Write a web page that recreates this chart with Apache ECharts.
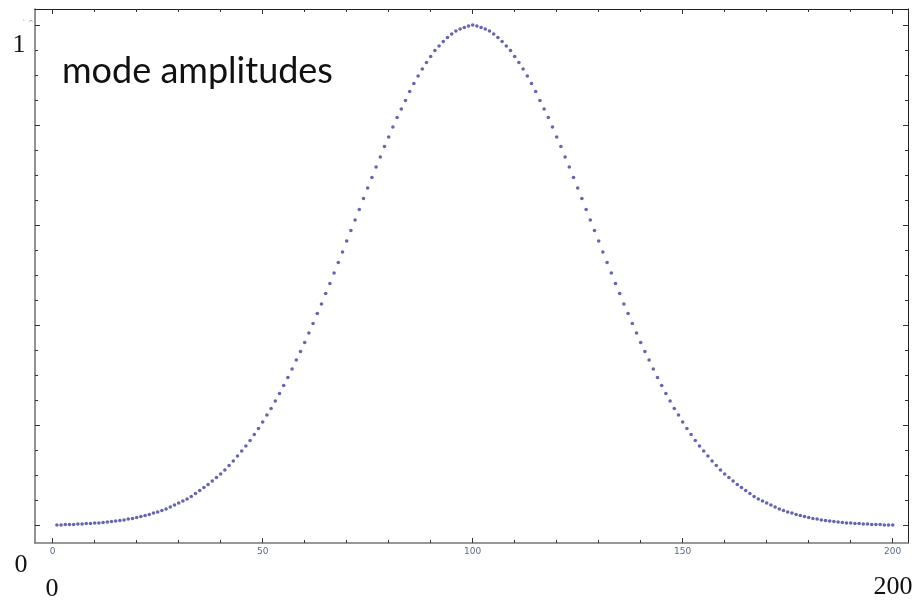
<!DOCTYPE html>
<html>
<head>
<meta charset="utf-8">
<script src="https://cdn.jsdelivr.net/npm/echarts@6/dist/echarts.min.js"></script>
<style>
html,body{margin:0;padding:0;background:#fff;}
#chart{width:916px;height:600px;}
</style>
</head>
<body>
<div id="chart"></div>
<script>
// mode index 1..200
var modeIndex = [];
for (var i = 1; i <= 200; i++) modeIndex.push(i);

// amplitudes
var amplitudes = [
 0.000,0.000,0.001,0.001,0.001,0.002,0.002,0.003,0.003,0.004,
 0.004,0.005,0.006,0.007,0.008,0.009,0.010,0.012,0.013,0.015,
 0.017,0.019,0.021,0.024,0.026,0.029,0.032,0.036,0.040,0.044,
 0.048,0.052,0.057,0.063,0.069,0.075,0.081,0.088,0.095,0.102,
 0.110,0.119,0.128,0.138,0.148,0.158,0.169,0.181,0.193,0.206,
 0.220,0.233,0.248,0.263,0.279,0.295,0.312,0.330,0.347,0.365,
 0.384,0.403,0.423,0.442,0.463,0.483,0.504,0.525,0.546,0.568,
 0.589,0.610,0.631,0.653,0.674,0.695,0.716,0.736,0.757,0.776,
 0.796,0.815,0.832,0.849,0.867,0.883,0.898,0.912,0.925,0.937,
 0.949,0.958,0.967,0.975,0.982,0.988,0.992,0.995,0.998,1.000,
 0.998,0.995,0.992,0.988,0.982,0.975,0.967,0.958,0.949,0.937,
 0.925,0.912,0.898,0.883,0.867,0.849,0.832,0.815,0.796,0.776,
 0.757,0.736,0.716,0.695,0.674,0.653,0.631,0.610,0.589,0.568,
 0.546,0.525,0.504,0.483,0.463,0.442,0.423,0.403,0.384,0.365,
 0.347,0.330,0.312,0.295,0.279,0.263,0.248,0.233,0.220,0.206,
 0.193,0.181,0.169,0.158,0.148,0.138,0.128,0.119,0.110,0.102,
 0.095,0.088,0.081,0.075,0.069,0.063,0.057,0.052,0.048,0.044,
 0.040,0.036,0.032,0.029,0.026,0.024,0.021,0.019,0.017,0.015,
 0.013,0.012,0.010,0.009,0.008,0.007,0.006,0.005,0.004,0.004,
 0.003,0.003,0.002,0.002,0.001,0.001,0.001,0.000,0.000,0.000
];

// tick positions
var xMajorTicks = [0, 50, 100, 150, 200];
var xMinorTicks = [0,10,20,30,40,50,60,70,80,90,100,110,120,130,140,150,160,170,180,190,200];
var yMajorTicks = [0, 0.2, 0.4, 0.6, 0.8, 1.0];
var yMinorTicks = [0,0.05,0.1,0.15,0.2,0.25,0.3,0.35,0.4,0.45,0.5,0.55,0.6,0.65,0.7,0.75,0.8,0.85,0.9,0.95,1.0];

// overlay texts
var titleText = 'mode amplitudes';
var yTopText = '1';
var yBottomText = '0';
var xLeftText = '0';
var xRightText = '200';

var X_MIN = -4.21, X_MAX = 203.64, Y_MIN = -0.036, Y_MAX = 1.032;

var points = modeIndex.map(function (x, k) { return [x, amplitudes[k]]; });

function xAx(pos, ticks, len, showLine, showLabel, lineColor, lineWidth) {
  return {
    type: 'value', position: pos, min: X_MIN, max: X_MAX,
    axisLine: { show: showLine, onZero: false, lineStyle: { color: lineColor, width: lineWidth } },
    axisTick: { show: true, inside: true, length: len, customValues: ticks, lineStyle: { color: '#333', width: 1 } },
    axisLabel: showLabel ? { show: true, customValues: xMajorTicks, fontSize: 9, color: '#5a6a8c', margin: 4, fontFamily: 'DejaVu Sans' } : { show: false },
    splitLine: { show: false }
  };
}
function yAx(pos, ticks, len, showLine, lineColor, lineWidth) {
  return {
    type: 'value', position: pos, min: Y_MIN, max: Y_MAX,
    axisLine: { show: showLine, onZero: false, lineStyle: { color: lineColor, width: lineWidth } },
    axisTick: { show: true, inside: true, length: len, customValues: ticks, lineStyle: { color: '#333', width: 1 } },
    axisLabel: { show: false },
    splitLine: { show: false }
  };
}

var chart = echarts.init(document.getElementById('chart'), null, { renderer: 'canvas' });
chart.setOption({
  backgroundColor: '#ffffff',
  animation: false,
  grid: { left: 35, right: 8, top: 9, bottom: 57, containLabel: false },
  xAxis: [
    xAx('bottom', xMajorTicks, 5, true, true, '#777', 1.6),
    xAx('bottom', xMinorTicks, 3, false, false, '#777', 1),
    xAx('top', xMajorTicks, 5, true, false, '#222', 1),
    xAx('top', xMinorTicks, 3, false, false, '#222', 1)
  ],
  yAxis: [
    yAx('left', yMajorTicks, 5, true, '#777', 1.6),
    yAx('left', yMinorTicks, 3, false, '#777', 1),
    yAx('right', yMajorTicks, 5, true, '#222', 1),
    yAx('right', yMinorTicks, 3, false, '#222', 1)
  ],
  series: [{
    type: 'scatter',
    xAxisIndex: 0, yAxisIndex: 0,
    data: points,
    symbol: 'circle',
    symbolSize: 3.6,
    itemStyle: { color: '#3f3f9e' },
    silent: true
  }],
  graphic: [
    { type: 'text', left: 62, top: 53, style: { text: titleText, font: '36px Lato', fill: '#111' } },
    { type: 'text', x: 19, y: 45, style: { text: yTopText, font: '26px "Liberation Serif"', fill: '#111', align: 'center', verticalAlign: 'middle' } },
    { type: 'text', x: 21, y: 565, style: { text: yBottomText, font: '26px "Liberation Serif"', fill: '#111', align: 'center', verticalAlign: 'middle' } },
    { type: 'text', x: 52, y: 589, style: { text: xLeftText, font: '26px "Liberation Serif"', fill: '#111', align: 'center', verticalAlign: 'middle' } },
    { type: 'text', x: 893, y: 587, style: { text: xRightText, font: '26px "Liberation Serif"', fill: '#111', align: 'center', verticalAlign: 'middle' } },
    { type: 'text', x: 28, y: 23, style: { text: '` ^', font: '7px "DejaVu Sans"', fill: '#888', align: 'center', verticalAlign: 'middle' } }
  ]
});
</script>
</body>
</html>
